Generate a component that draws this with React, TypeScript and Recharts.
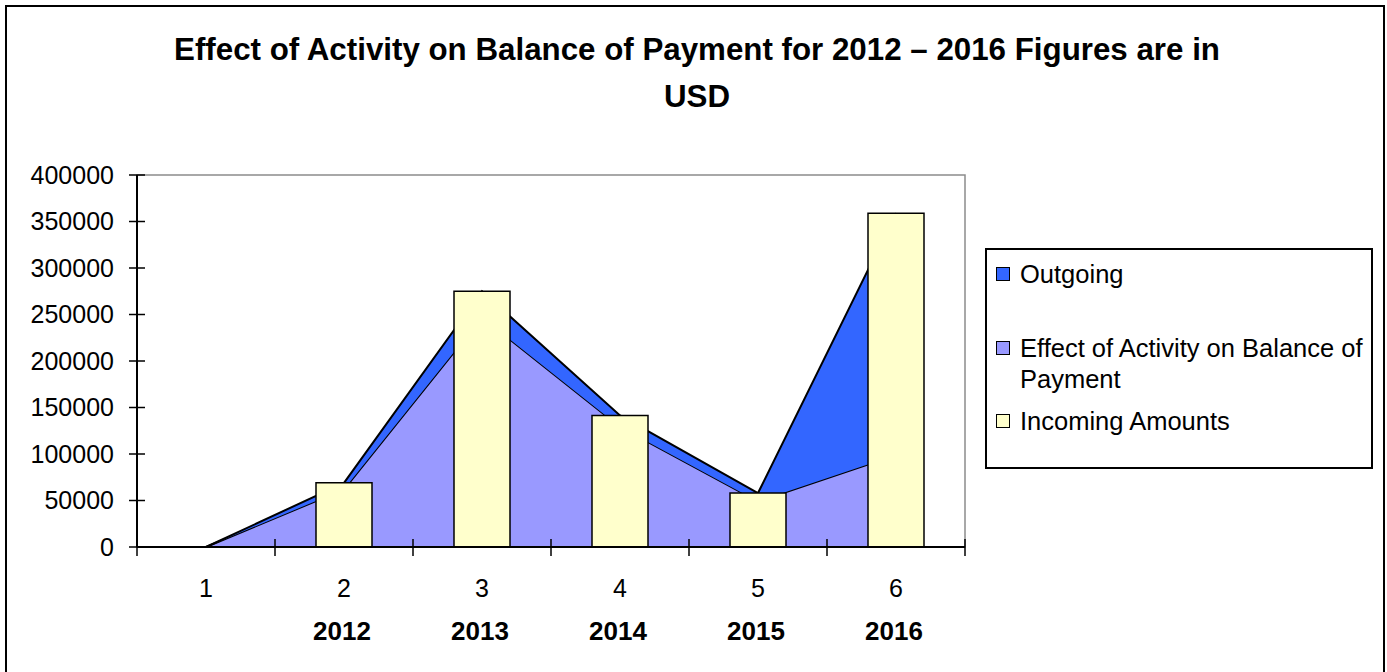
import React from 'react';
import { ComposedChart, Area, Bar, XAxis, YAxis, ReferenceArea } from 'recharts';

const categories = ['1', '2', '3', '4', '5', '6'];
const years = ['', '2012', '2013', '2014', '2015', '2016'];
const incoming = [0, 69000, 275000, 141500, 58000, 359000];
const effect = [0, 62000, 247000, 129000, 49000, 99000];
const outgoing = [0, 7000, 28000, 12500, 9000, 260000];
const yTicks = [0, 50000, 100000, 150000, 200000, 250000, 300000, 350000, 400000];

const seriesNames = {
  outgoing: 'Outgoing',
  effect: 'Effect of Activity on Balance of Payment',
  incoming: 'Incoming Amounts',
};

const data = categories.map((c, i) => ({
  cat: c,
  year: years[i],
  incoming: incoming[i],
  effect: effect[i],
  outgoing: outgoing[i],
}));

const FONT = '"Liberation Sans", Arial, sans-serif';
const C_OUT = '#3366FF';
const C_EFF = '#9999FF';
const C_INC = '#FFFFCC';

const YTick = (props: any) => {
  const { x, y, payload } = props;
  const ax = x + 23;
  return (
    <g>
      <line x1={ax - 8} x2={ax + 8} y1={y} y2={y} stroke="#000" strokeWidth={1.5} />
      <text x={x} y={y} dy="0.35em" textAnchor="end" fontSize={25} fontFamily={FONT} fill="#000">
        {payload.value}
      </text>
    </g>
  );
};

const XTick = (props: any) => {
  const { x, y, payload, index } = props;
  const half = payload && typeof payload.offset === 'number' && payload.offset > 0 ? payload.offset : 69;
  const yr = years[index] || '';
  const last = index === categories.length - 1;
  return (
    <g>
      <line x1={x - half} x2={x - half} y1={y - 8} y2={y + 9} stroke="#000" strokeWidth={1.5} />
      {last && <line x1={x + half} x2={x + half} y1={y - 8} y2={y + 9} stroke="#000" strokeWidth={1.5} />}
      <text x={x} y={y + 41} dy="0.35em" textAnchor="middle" fontSize={25} fontFamily={FONT} fill="#000">
        {payload.value}
      </text>
      {yr && (
        <text x={x - 2} y={y + 84} dy="0.35em" textAnchor="middle" fontSize={26} fontWeight="bold" fontFamily={FONT} fill="#000">
          {yr}
        </text>
      )}
    </g>
  );
};

const legendItems = [
  { name: seriesNames.outgoing, color: C_OUT, top: 257 },
  { name: seriesNames.effect, color: C_EFF, top: 331 },
  { name: seriesNames.incoming, color: C_INC, top: 404 },
];

const LegendBox = () => (
  <div
    style={{
      position: 'absolute',
      left: 985,
      top: 248,
      width: 388,
      height: 221,
      border: '2px solid #000',
      boxSizing: 'border-box',
      background: '#fff',
    }}
  >
    {legendItems.map((it) => (
      <div
        key={it.name}
        style={{
          position: 'absolute',
          left: 9,
          top: it.top - 248,
          width: 370,
          fontFamily: FONT,
          fontSize: 25.5,
          lineHeight: '31px',
          color: '#000',
        }}
      >
        <span
          style={{
            position: 'absolute',
            left: 0,
            top: 8,
            width: 12,
            height: 12,
            background: it.color,
            border: '1.5px solid #000',
          }}
        />
        <div style={{ marginLeft: 24 }}>{it.name}</div>
      </div>
    ))}
  </div>
);

export default function App() {
  return (
    <div
      style={{
        position: 'absolute',
        left: 0,
        top: 0,
        width: 1387,
        height: 672,
        overflow: 'hidden',
        background: '#fff',
      }}
    >
      <div
        style={{
          position: 'absolute',
          left: 5,
          top: 5,
          width: 1380,
          height: 720,
          border: '2px solid #000',
          boxSizing: 'border-box',
        }}
      />
      <div
        style={{
          position: 'absolute',
          left: 0,
          top: 26,
          width: 1394,
          textAlign: 'center',
          fontFamily: FONT,
          fontWeight: 'bold',
          fontSize: 31.3,
          lineHeight: '47px',
          color: '#000',
        }}
      >
        <div>Effect of Activity on Balance of Payment for 2012 – 2016 Figures are in</div>
        <div>USD</div>
      </div>
      <div style={{ position: 'absolute', left: 0, top: 0 }}>
        <ComposedChart
          width={1387}
          height={672}
          data={data}
          margin={{ top: 175, right: 422, bottom: 0, left: 0 }}
        >
          <ReferenceArea
            x1="1"
            x2="6"
            y1={0}
            y2={400000}
            fill="none"
            fillOpacity={0}
            stroke="#8c8c8c"
            strokeWidth={1.5}
            ifOverflow="extendDomain"
          />
          <Area
            type="linear"
            dataKey="effect"
            name={seriesNames.effect}
            stackId="s"
            fill={C_EFF}
            fillOpacity={1}
            stroke="#000"
            strokeWidth={2}
            dot={false}
            activeDot={false}
            isAnimationActive={false}
          />
          <Area
            type="linear"
            dataKey="outgoing"
            name={seriesNames.outgoing}
            stackId="s"
            fill={C_OUT}
            fillOpacity={1}
            stroke="#000"
            strokeWidth={2}
            dot={false}
            activeDot={false}
            isAnimationActive={false}
          />
          <Bar
            dataKey="incoming"
            name={seriesNames.incoming}
            barSize={56}
            fill={C_INC}
            stroke="#000"
            strokeWidth={1.5}
            isAnimationActive={false}
          />
          <XAxis
            dataKey="cat"
            height={125}
            tickLine={false}
            tickSize={0}
            tickMargin={0}
            interval={0}
            axisLine={{ stroke: '#000', strokeWidth: 2 }}
            tick={<XTick />}
          />
          <YAxis
            width={137}
            domain={[0, 400000]}
            ticks={yTicks}
            interval={0}
            tickLine={false}
            tickSize={0}
            tickMargin={23}
            axisLine={{ stroke: '#000', strokeWidth: 2 }}
            tick={<YTick />}
          />
        </ComposedChart>
      </div>
      <LegendBox />
    </div>
  );
}
